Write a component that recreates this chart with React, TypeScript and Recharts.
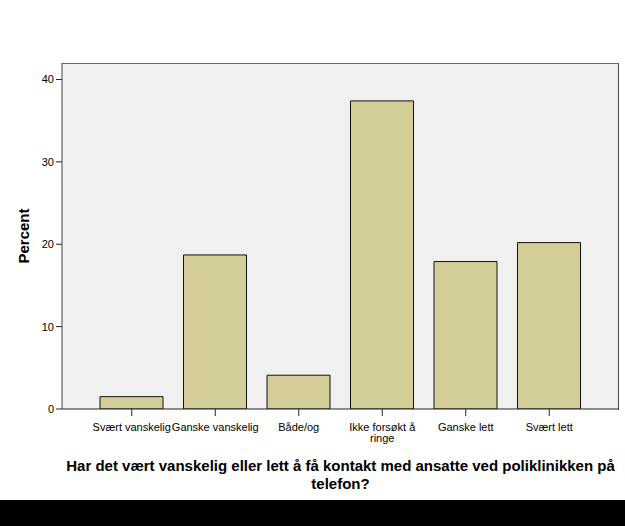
import { BarChart, Bar, XAxis, YAxis, CartesianGrid } from "recharts";

const categories = ["Svært vanskelig", "Ganske vanskelig", "Både/og", "Ikke forsøkt å ringe", "Ganske lett", "Svært lett"];
const percents = [1.5, 18.7, 4.1, 37.4, 17.9, 20.2];
const yTicks = [0, 10, 20, 30, 40];

const data = categories.map((name, i) => ({ name, value: percents[i] }));

const FONT = "Arial, 'Liberation Sans', sans-serif";

let ctx: CanvasRenderingContext2D | null = null;
function measure(s: string) {
  if (!ctx) ctx = document.createElement("canvas").getContext("2d");
  if (!ctx) return s.length * 6;
  ctx.font = `11px ${FONT}`;
  return ctx.measureText(s).width;
}

function wrap(label: string, maxWidth: number) {
  const lines: string[] = [];
  let cur = "";
  for (const w of label.split(" ")) {
    const next = cur ? cur + " " + w : w;
    if (cur && measure(next) > maxWidth) {
      lines.push(cur);
      cur = w;
    } else cur = next;
  }
  if (cur) lines.push(cur);
  return lines;
}

function CategoryTick(props: any) {
  const { x, y, payload } = props;
  const lines = wrap(String(payload.value), 92);
  return (
    <text x={x} y={y + 13} textAnchor="middle" fontSize={11} fontFamily={FONT} fill="#000">
      {lines.map((l, i) => (
        <tspan key={i} x={x} dy={i === 0 ? 0 : 11}>
          {l}
        </tspan>
      ))}
    </text>
  );
}

function PercentLabel(props: any) {
  const vb = props.viewBox || { x: 0, y: 63, width: 62, height: 346 };
  const cy = vb.y + vb.height / 2;
  return (
    <text
      x={23}
      y={cy}
      transform={`rotate(-90 23 ${cy})`}
      textAnchor="middle"
      dominantBaseline="central"
      fontFamily={FONT}
      fontWeight="bold"
      fontSize={15}
      fill="#000"
    >
      Percent
    </text>
  );
}

export default function App() {
  return (
    <div style={{ position: "absolute", left: 0, top: 0, width: 625, height: 526, background: "#fff" }}>
      <BarChart width={625} height={500} data={data} margin={{ top: 63, right: 6, left: 0, bottom: 0 }}>
        <CartesianGrid fill="#f0f0f0" horizontal={false} vertical={false} />
        <XAxis
          dataKey="name"
          height={91}
          padding={{ left: 28, right: 28 }}
          tick={<CategoryTick />}
          tickSize={7}
          axisLine={{ stroke: "#222" }}
          tickLine={{ stroke: "#222" }}
          interval={0}
        />
        <YAxis
          width={62}
          domain={[0, 42]}
          ticks={yTicks}
          tickSize={6}
          tickMargin={2}
          allowDataOverflow
          axisLine={{ stroke: "#444" }}
          tickLine={{ stroke: "#222" }}
          tick={{ fontSize: 11, fontFamily: FONT, fill: "#000" }}
          label={<PercentLabel />}
        />
        <Bar dataKey="value" barSize={63} fill="#d3ce97" stroke="#111" strokeWidth={1} isAnimationActive={false} />
      </BarChart>
      <div
        style={{
          position: "absolute",
          left: 62,
          top: 63,
          width: 556,
          height: 346,
          borderTop: "1px solid #666",
          borderRight: "1px solid #444",
          pointerEvents: "none",
        }}
      />
      <div
        style={{
          position: "absolute",
          left: 62,
          width: 557,
          top: 457,
          textAlign: "center",
          fontFamily: FONT,
          fontWeight: "bold",
          fontSize: 15,
          lineHeight: "18px",
          color: "#000",
          whiteSpace: "nowrap",
        }}
      >
        Har det vært vanskelig eller lett å få kontakt med ansatte ved poliklinikken på
        <br />
        telefon?
      </div>
      <div style={{ position: "absolute", left: 0, top: 500, width: 625, height: 26, background: "#000" }} />
    </div>
  );
}
